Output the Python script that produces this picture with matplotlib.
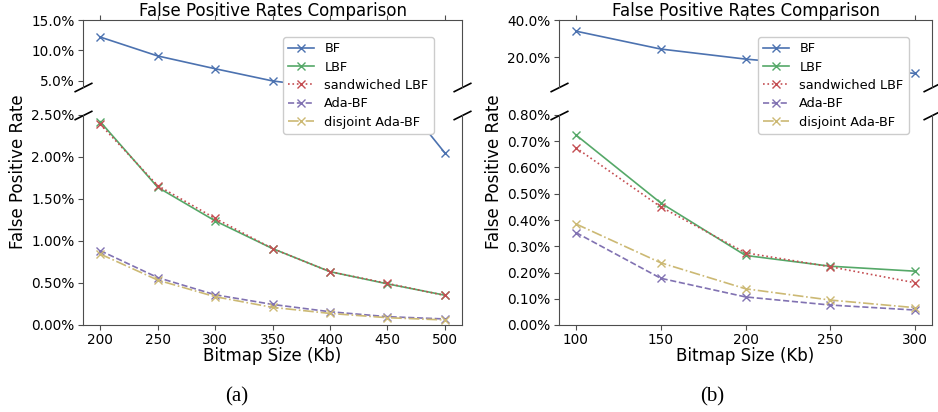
import matplotlib.pyplot as plt
from matplotlib.ticker import PercentFormatter, MultipleLocator

# values in percent
size_a = [200, 250, 300, 350, 400, 450, 500]
bf_a = [12.2, 9.1, 7.0, 5.0, 3.8, 2.9, 2.05]
lbf_a = [2.42, 1.64, 1.24, 0.91, 0.635, 0.49, 0.355]
sand_a = [2.39, 1.66, 1.27, 0.91, 0.635, 0.495, 0.352]
ada_a = [0.885, 0.565, 0.36, 0.245, 0.158, 0.099, 0.072]
disj_a = [0.845, 0.535, 0.337, 0.21, 0.138, 0.087, 0.06]

size_b = [100, 150, 200, 250, 300]
bf_b = [34.0, 24.4, 19.0, 15.0, 11.3]
lbf_b = [0.724, 0.465, 0.265, 0.224, 0.205]
sand_b = [0.675, 0.45, 0.275, 0.222, 0.161]
ada_b = [0.352, 0.178, 0.107, 0.076, 0.057]
disj_b = [0.385, 0.237, 0.138, 0.095, 0.066]

names = ['BF', 'LBF', 'sandwiched LBF', 'Ada-BF', 'disjoint Ada-BF']
colors = ['#4C72B0', '#55A868', '#C44E52', '#8172B2', '#CCB974']
styles = ['-', '-', ':', '--', '-.']

W, H = 938, 412
fig = plt.figure(figsize=(W / 100, H / 100), dpi=100)


def px(x0, y0, x1, y1):
    # pixel box -> figure fraction rect
    return [x0 / W, 1 - y1 / H, (x1 - x0) / W, (y1 - y0) / H]


def panel(x0, x1, xs, series, top_lim, top_step, bot_lim, bot_step, leg_x):
    ax1 = fig.add_axes(px(x0, 20, x1, 87))
    ax2 = fig.add_axes(px(x0, 115, x1, 325))
    lines = []
    for ys, c, ls, n in zip(series, colors, styles, names):
        for ax in (ax1, ax2):
            l, = ax.plot(xs, ys, color=c, linestyle=ls, marker='x', markersize=6,
                         linewidth=1.2, label=n)
        lines.append(l)
    ax1.set_ylim(*top_lim)
    ax2.set_ylim(*bot_lim)
    ax1.yaxis.set_major_locator(MultipleLocator(top_step))
    ax2.yaxis.set_major_locator(MultipleLocator(bot_step))
    ax1.yaxis.set_major_formatter(PercentFormatter(100, decimals=1))
    ax2.yaxis.set_major_formatter(PercentFormatter(100, decimals=2))
    ax2.set_xticks(xs)
    ax1.set_xticks(xs)
    ax1.set_xlim(ax2.get_xlim())
    ax1.spines['bottom'].set_visible(False)
    ax2.spines['top'].set_visible(False)
    ax1.xaxis.tick_top()
    ax1.tick_params(labeltop=False)
    ax2.xaxis.tick_bottom()
    for ax in (ax1, ax2):
        for s in ax.spines.values():
            s.set_color('0.3')
        ax.tick_params(labelsize=9.8, color='0.3', pad=2.5)
    ax1.set_title('False Positive Rates Comparison', fontsize=12, pad=3)
    ax2.set_xlabel('Bitmap Size (Kb)', fontsize=12, labelpad=0)

    # break marks
    kw = dict(marker=[(-1, -0.5), (1, 0.5)], markersize=13, linestyle='none',
              color='k', mec='k', mew=1.2, clip_on=False)
    ax1.plot([0, 1], [0, 0], transform=ax1.transAxes, **kw)
    ax2.plot([0, 1], [1, 1], transform=ax2.transAxes, **kw)

    fig.legend(handles=lines, loc='upper left', bbox_to_anchor=(leg_x / W, 1 - 37 / H),
               fontsize=9.3, labelspacing=0.42, borderaxespad=0, framealpha=1)
    fig.text((x0 - 65) / W, 1 - 172 / H, 'False Positive Rate', rotation=90,
             ha='center', va='center', fontsize=12)


panel(83, 462, size_a, [bf_a, lbf_a, sand_a, ada_a, disj_a],
      (4, 15), 5, (0, 2.5), 0.5, 283)
panel(559, 932, size_b, [bf_b, lbf_b, sand_b, ada_b, disj_b],
      (4, 40), 20, (0, 0.8), 0.1, 758)

fig.text(237 / W, 1 - 397 / H, '(a)', ha='center', va='center',
         fontsize=15, family='Liberation Serif')
fig.text(712 / W, 1 - 397 / H, '(b)', ha='center', va='center',
         fontsize=15, family='Liberation Serif')

fig.savefig('out.png', dpi=100)
